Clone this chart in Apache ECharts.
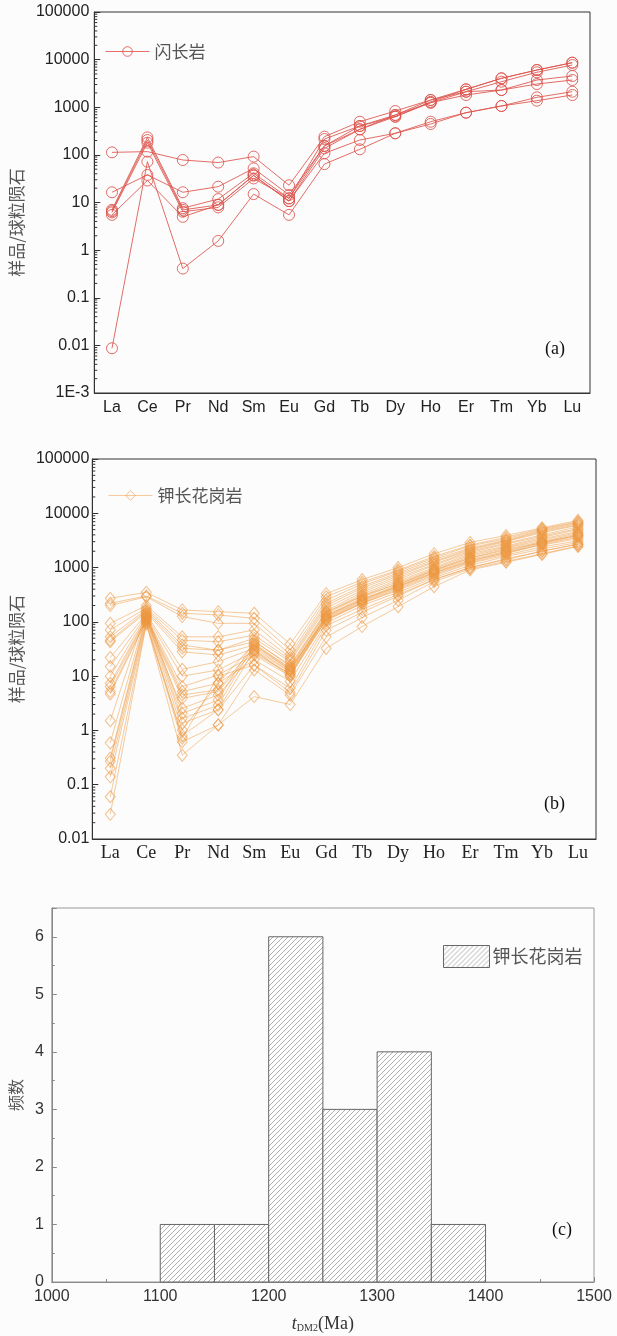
<!DOCTYPE html>
<html lang="zh">
<head>
<meta charset="UTF-8">
<title>稀土元素配分图与 tDM2 直方图</title>
<script src="https://cdn.jsdelivr.net/npm/echarts@6/dist/echarts.min.js"></script>
<style>
  html, body { margin: 0; padding: 0; background: #fcfcfc; }
  #main { width: 617px; height: 1336px; }
</style>
</head>
<body>
<div id="main"></div>
<script>
  // ---- data ----
  const ree = ['La', 'Ce', 'Pr', 'Nd', 'Sm', 'Eu', 'Gd', 'Tb', 'Dy', 'Ho', 'Er', 'Tm', 'Yb', 'Lu'];

  // (a) 闪长岩, chondrite normalised
  const dioriteRows = [
    [113, 117, 78, 69, 92, 23, 241, 497, 834, 1420, 2378, 4050, 6050, 8630],
    [16.4, 38, 16.4, 21.5, 52, 14.4, 154, 344, 687, 1247, 2120, 3443, 5420, 7710],
    [7.0, 233, 7.6, 11.8, 41, 12.2, 215, 404, 634, 1300, 2378, 4050, 6050, 8630],
    [6.6, 205, 7.0, 8.9, 37, 10.7, 137, 344, 634, 1247, 1808, 2300, 3730, 4530],
    [6.2, 180, 6.4, 7.9, 32, 12.2, 154, 404, 687, 1420, 2120, 2300, 3075, 3730],
    [5.5, 29, 5.0, 8.9, 37, 10.7, 108, 205, 284, 497, 769, 1062, 1615, 2120],
    [0.0087, 72, 0.41, 1.56, 15, 5.5, 64, 131, 284, 445, 769, 1062, 1373, 1808]
  ];

  // (b) 钾长花岗岩, chondrite normalised
  const kfgRows = [
    [272, 350, 166, 154, 144, 39, 330, 600, 1000, 1800, 2900, 3900, 5400, 7400],
    [220, 300, 144, 134, 116, 30, 290, 540, 900, 1600, 2600, 3600, 5200, 7000],
    [200, 290, 125, 94, 94, 25, 250, 500, 860, 1500, 2500, 3400, 5000, 6800],
    [94, 200, 53, 53, 71, 22, 220, 450, 800, 1400, 2300, 3200, 4800, 6500],
    [71, 180, 46, 43, 57, 20, 200, 420, 750, 1300, 2200, 3100, 4600, 6200],
    [53, 170, 37.5, 30, 50, 18.5, 180, 380, 700, 1250, 2100, 3000, 4400, 6000],
    [46, 160, 32.6, 30, 43, 16, 160, 350, 650, 1150, 2000, 2800, 4000, 5600],
    [43, 150, 28, 24.5, 37.5, 14, 150, 320, 600, 1100, 1900, 2700, 3800, 5200],
    [22, 140, 13.4, 18.5, 32.6, 12.3, 140, 300, 560, 1000, 1800, 2500, 3600, 5000],
    [15, 130, 10, 13, 28, 11, 130, 280, 520, 950, 1700, 2400, 3400, 4600],
    [10, 125, 6.4, 10.5, 24.5, 10, 125, 260, 480, 900, 1600, 2300, 3200, 4400],
    [7.4, 120, 5.2, 7.4, 40, 14, 120, 250, 460, 860, 1500, 2200, 3000, 4200],
    [6.4, 115, 4.5, 5.6, 35, 13, 115, 240, 440, 820, 1400, 2000, 2900, 4000],
    [5.2, 110, 3.9, 5.2, 30, 12, 110, 230, 420, 780, 1300, 1900, 2800, 3800],
    [4.7, 105, 2.56, 4.5, 26, 11, 105, 220, 400, 740, 1250, 1800, 2700, 3600],
    [1.51, 150, 2.07, 3.6, 45, 15, 150, 300, 500, 900, 1500, 2100, 2900, 3900],
    [0.59, 140, 1.67, 2.9, 38, 13, 130, 260, 450, 800, 1350, 1900, 2600, 3400],
    [0.31, 130, 1.36, 2.4, 30, 10, 110, 220, 380, 700, 1200, 1700, 2400, 3100],
    [0.27, 120, 1.02, 7.4, 20, 8, 95, 200, 350, 650, 1100, 1600, 2200, 2900],
    [0.2, 110, 0.72, 10, 16, 6, 85, 170, 320, 600, 1000, 1450, 2000, 2700],
    [0.14, 100, 0.62, 1.26, 13, 4.5, 53, 120, 250, 550, 950, 1300, 1800, 2500],
    [0.06, 95, 0.35, 1.26, 4.2, 3, 32.5, 82, 190, 445, 900, 1250, 1750, 2450],
    [0.0285, 90, 0.8, 2.4, 16, 5, 70, 150, 300, 600, 1000, 1400, 2000, 2700]
  ];

  // (c) tDM2 histogram
  const binStart = [1100, 1150, 1200, 1250, 1300, 1350];
  const binCount = [1, 1, 6, 3, 4, 1];
  const binWidth = 50;

  const logLabelsA = ['1E-3', '0.01', '0.1', '1', '10', '100', '1000', '10000', '100000'];
  const logLabelsB = ['0.01', '0.1', '1', '10', '100', '1000', '10000', '100000'];

  // ---- helpers ----
  const SANS = 'Liberation Sans';
  const SERIF = 'Liberation Serif';
  const CJK = 'Noto Sans CJK SC';

  function minorLogTicks(loExp, hiExp) {
    const out = [];
    for (let e = loExp; e < hiExp; e++) {
      for (let m = 2; m <= 9; m++) out.push([0, m * Math.pow(10, e)]);
    }
    return out;
  }

  function hatchCanvas() {
    const s = 5;
    const c = document.createElement('canvas');
    c.width = s; c.height = s;
    const g = c.getContext('2d');
    g.fillStyle = '#ffffff';
    g.fillRect(0, 0, s, s);
    g.strokeStyle = '#9a9a9a';
    g.lineWidth = 0.8;
    g.beginPath();
    g.moveTo(0, s); g.lineTo(s, 0);
    g.moveTo(-1, 1); g.lineTo(1, -1);
    g.moveTo(s - 1, s + 1); g.lineTo(s + 1, s - 1);
    g.stroke();
    return c;
  }
  const hatch = { image: hatchCanvas(), repeat: 'repeat' };

  const redLine = 'rgba(221, 84, 76, 0.85)';
  const orangeLine = 'rgba(238, 152, 60, 0.5)';
  const orangeMark = 'rgba(236, 150, 62, 0.6)';

  function reeSeries(rows, name, gridIdx, color, markColor, symbol, size) {
    return rows.map(r => ({
      name: name,
      type: 'line',
      xAxisIndex: gridIdx,
      yAxisIndex: gridIdx,
      data: r,
      symbol: symbol,
      symbolSize: size,
      showAllSymbol: true,
      silent: true,
      lineStyle: { color: color, width: 1 },
      itemStyle: { color: 'rgba(0,0,0,0)', borderColor: markColor, borderWidth: 1 },
      emphasis: { disabled: true },
      z: 3
    }));
  }

  function minorTickSeries(gridIdx, loExp, hiExp) {
    return {
      type: 'custom',
      xAxisIndex: gridIdx,
      yAxisIndex: gridIdx,
      silent: true,
      z: 4,
      data: minorLogTicks(loExp, hiExp),
      renderItem: function (params, api) {
        const y = api.coord([0, api.value(1)])[1];
        const x = params.coordSys.x;
        return {
          type: 'line',
          shape: { x1: x, y1: y, x2: x + 3, y2: y },
          style: { stroke: '#333', lineWidth: 1 }
        };
      }
    };
  }

  const chart = echarts.init(document.getElementById('main'));

  const option = {
    backgroundColor: '#fcfcfc',
    animation: false,
    grid: [
      { left: 80, top: 12, width: 510, height: 381, show: true, borderColor: '#333', borderWidth: 1, backgroundColor: 'transparent' },
      { left: 85, top: 459, width: 511, height: 380, show: true, borderColor: '#333', borderWidth: 1, backgroundColor: 'transparent' },
      { left: 48, top: 908, width: 546, height: 374, show: true, borderColor: '#999', borderWidth: 1, backgroundColor: 'transparent' }
    ],
    legend: [
      {
        data: [{ name: '闪长岩', itemStyle: { color: 'rgba(0,0,0,0)', borderColor: redLine, borderWidth: 1 }, lineStyle: { width: 1, color: redLine } }],
        left: 100, top: 38, itemWidth: 44, itemHeight: 12,
        textStyle: { fontFamily: CJK, fontSize: 17, color: '#555' }
      },
      {
        data: [{ name: '钾长花岗岩', itemStyle: { color: 'rgba(0,0,0,0)', borderColor: orangeMark, borderWidth: 1 }, lineStyle: { width: 1, color: orangeLine } }],
        left: 103, top: 482, itemWidth: 44, itemHeight: 12,
        textStyle: { fontFamily: CJK, fontSize: 17, color: '#555' }
      },
      {
        data: [{ name: 'hist', icon: 'rect', itemStyle: { color: hatch, borderColor: '#666', borderWidth: 1 } }],
        left: 438, top: 940, itemWidth: 46, itemHeight: 22,
        formatter: () => '钾长花岗岩',
        textStyle: { fontFamily: CJK, fontSize: 18, color: '#555', padding: [0, 0, 0, -2] }
      }
    ],
    xAxis: [
      {
        gridIndex: 0, type: 'category', data: ree, boundaryGap: true,
        axisLine: { lineStyle: { color: '#333' } },
        axisTick: { inside: true, alignWithLabel: true, length: 6, lineStyle: { color: '#333' } },
        axisLabel: { margin: 7, fontFamily: SANS, fontSize: 16, color: '#222' },
        splitLine: { show: false }
      },
      {
        gridIndex: 1, type: 'category', data: ree, boundaryGap: true,
        axisLine: { lineStyle: { color: '#333' } },
        axisTick: { inside: true, alignWithLabel: true, length: 6, lineStyle: { color: '#333' } },
        axisLabel: { margin: 5, fontFamily: SERIF, fontSize: 18, color: '#222' },
        splitLine: { show: false }
      },
      {
        gridIndex: 2, type: 'value', min: 1000, max: 1500, interval: 100,
        name: '{i|t}{s|DM2}{n|(Ma)}', nameLocation: 'middle', nameGap: 33,
        nameTextStyle: {
          rich: {
            i: { fontFamily: SERIF, fontStyle: 'italic', fontSize: 18, color: '#333' },
            s: { fontFamily: SERIF, fontSize: 10, color: '#333', verticalAlign: 'bottom', padding: [7, 0, 0, 0] },
            n: { fontFamily: SERIF, fontSize: 18, color: '#333' }
          }
        },
        axisLine: { lineStyle: { color: '#888' } },
        axisTick: { inside: true, length: 5, lineStyle: { color: '#888' } },
        minorTick: { show: true, splitNumber: 2, length: 3, lineStyle: { color: '#888' } },
        axisLabel: { margin: 7, fontFamily: SANS, fontSize: 16, color: '#333', formatter: v => String(v) },
        splitLine: { show: false }
      }
    ],
    yAxis: [
      {
        gridIndex: 0, type: 'log', logBase: 10, min: 0.001, max: 100000, splitNumber: 8,
        name: '样品/球粒陨石', nameLocation: 'middle', nameRotate: 90, nameGap: 43,
        nameTextStyle: { fontFamily: CJK, fontSize: 17, color: '#555', padding: [0, 40, 0, 0] },
        axisLine: { show: true, lineStyle: { color: '#333' } },
        axisTick: { show: true, inside: true, length: 6, lineStyle: { color: '#333' } },
        axisLabel: {
          margin: 5, fontFamily: SANS, fontSize: 16, color: '#222',
          formatter: v => logLabelsA[Math.round(Math.log10(v)) + 3]
        },
        splitLine: { show: false }
      },
      {
        gridIndex: 1, type: 'log', logBase: 10, min: 0.01, max: 100000, splitNumber: 7,
        name: '样品/球粒陨石', nameLocation: 'middle', nameRotate: 90, nameGap: 44,
        nameTextStyle: { fontFamily: CJK, fontSize: 17, color: '#555' },
        axisLine: { show: true, lineStyle: { color: '#333' } },
        axisTick: { show: true, inside: true, length: 6, lineStyle: { color: '#333' } },
        axisLabel: {
          margin: 3, fontFamily: SANS, fontSize: 16, color: '#222',
          formatter: v => logLabelsB[Math.round(Math.log10(v)) + 2]
        },
        splitLine: { show: false }
      },
      {
        gridIndex: 2, type: 'value', min: 0, max: 6.5, interval: 1,
        name: '频数', nameLocation: 'middle', nameRotate: 90, nameGap: 27,
        nameTextStyle: { fontFamily: CJK, fontSize: 16, color: '#555' },
        axisLine: { show: true, lineStyle: { color: '#888' } },
        axisTick: { show: true, inside: true, length: 5, lineStyle: { color: '#888' } },
        minorTick: { show: true, splitNumber: 2, length: 3, lineStyle: { color: '#888' } },
        axisLabel: {
          margin: 8, fontFamily: SANS, fontSize: 16, color: '#333',
          formatter: v => (Number.isInteger(v) ? String(v) : '')
        },
        splitLine: { show: false }
      }
    ],
    graphic: [
      { type: 'text', left: 545, top: 340, style: { text: '(a)', font: '18px "Liberation Serif"', fill: '#111' } },
      { type: 'text', left: 544, top: 795, style: { text: '(b)', font: '18px "Liberation Serif"', fill: '#111' } },
      { type: 'text', left: 552, top: 1221, style: { text: '(c)', font: '18px "Liberation Serif"', fill: '#111' } }
    ],
    series: [
      ...reeSeries(dioriteRows, '闪长岩', 0, redLine, redLine, 'circle', 11),
      ...reeSeries(kfgRows, '钾长花岗岩', 1, orangeLine, orangeMark, 'diamond', [10, 12]),
      minorTickSeries(0, -3, 5),
      minorTickSeries(1, -2, 5),
      {
        name: 'hist',
        type: 'custom',
        xAxisIndex: 2,
        yAxisIndex: 2,
        silent: true,
        itemStyle: { color: hatch, borderColor: '#666', borderWidth: 1 },
        data: binStart.map((b, i) => [b, binCount[i]]),
        renderItem: function (params, api) {
          const x0 = api.value(0);
          const top = api.coord([x0, api.value(1)]);
          const bottom = api.coord([x0 + binWidth, 0]);
          return {
            type: 'rect',
            shape: { x: top[0], y: top[1], width: bottom[0] - top[0], height: bottom[1] - top[1] },
            style: { fill: hatch, stroke: '#666', lineWidth: 1 }
          };
        }
      }
    ]
  };

  chart.setOption(option);
</script>
</body>
</html>
